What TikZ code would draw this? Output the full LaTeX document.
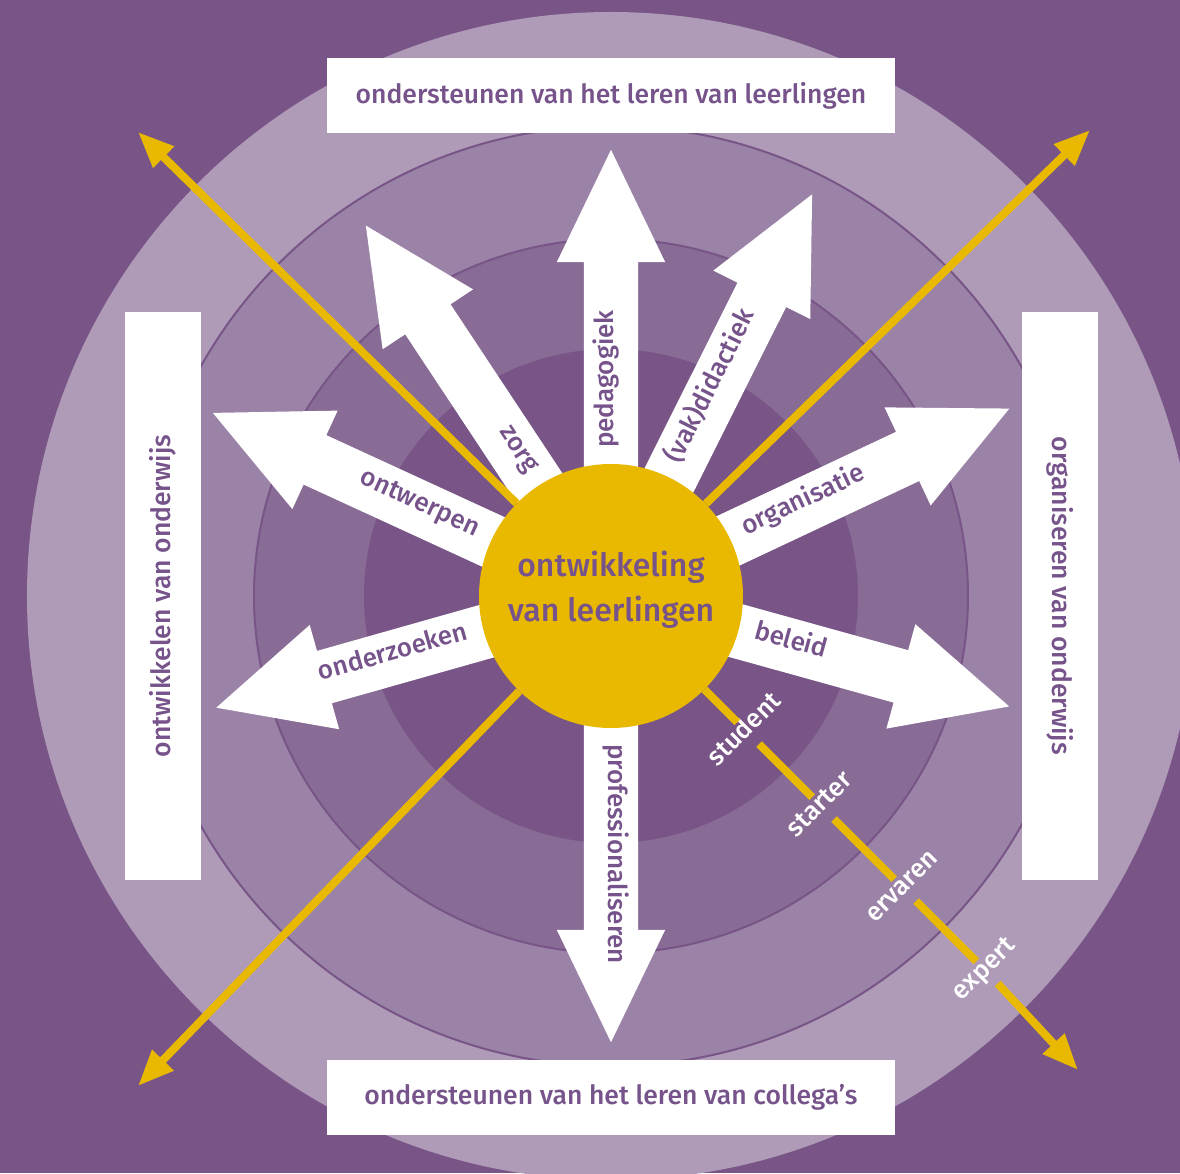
\documentclass[tikz,border=0pt]{standalone}
\usepackage{fontspec}
\setmainfont{Fira Sans}[UprightFont=* Medium]
\usepackage{tikz}
\usetikzlibrary{shapes.arrows, arrows.meta}
\definecolor{bgpurple}{HTML}{785586}
\definecolor{ringouter}{HTML}{AF9BB8}
\definecolor{ringmid}{HTML}{9B83A7}
\definecolor{ringinner}{HTML}{886C96}
\definecolor{coreyellow}{HTML}{E8B900}
\definecolor{textpurple}{HTML}{76538A}

\begin{document}
\begin{tikzpicture}[x=1pt, y=1pt,
    blockarrow/.style={single arrow, fill=white, inner xsep=0pt, inner ysep=27pt, minimum width=108pt,
      single arrow head extend=27pt, single arrow tip angle=51.5, anchor=tail},
    armlabel/.style={text=textpurple, font=\fontsize{26}{30}\selectfont, inner sep=0pt},
    stagelabel/.style={text=white, font=\fontsize{26}{30}\selectfont, rotate=45,
      inner xsep=2pt, inner ysep=10.5pt, text height=0.75em, text depth=0.2em},
    sidebox/.style={fill=white, text=textpurple, font=\fontsize{26.5}{30}\selectfont,
      minimum width=567pt, minimum height=75pt, inner sep=0pt},
    trackline/.style={draw=coreyellow, line width=8pt}
  ]
    \useasboundingbox (-611,-577) rectangle (569,596);
    \fill[bgpurple] (-611,-577) rectangle (569,596);
    \fill[ringouter] (0,0) circle (584);
    \filldraw[fill=ringmid, draw=bgpurple, line width=2pt] (0,0) circle (470);
    \filldraw[fill=ringinner, draw=bgpurple, line width=2pt] (0,0) circle (357);
    \fill[bgpurple] (0,0) circle (247);

    \node[blockarrow, rotate=90, minimum height=446pt] (pedArrow) at (0,0) {};
    \node[blockarrow, rotate=-90, minimum height=446pt] (profArrow) at (0,0) {};
    \node[blockarrow, rotate=123.5, minimum height=444pt] (zorgArrow) at (0,0) {};
    \node[blockarrow, rotate=63.4, minimum height=449pt] (didArrow) at (0,0) {};
    \node[blockarrow, rotate=155.3, minimum height=438pt] (ontwArrow) at (0,0) {};
    \node[blockarrow, rotate=25.2, minimum height=440pt] (orgArrow) at (0,0) {};
    \node[blockarrow, rotate=195.8, minimum height=410pt] (onderzArrow) at (0,0) {};
    \node[blockarrow, rotate=-15.5, minimum height=413pt] (beleidArrow) at (0,0) {};

    \node[armlabel, rotate=90, anchor=mid west] (pedagogiek) at (90:148) {pedagogiek};
    \node[armlabel, rotate=-90, anchor=mid west] (professionaliseren) at (-90:148) {professionaliseren};
    \node[armlabel, rotate=-56.5, anchor=mid east] (zorg) at (123.5:148) {zorg};
    \node[armlabel, rotate=63.4, anchor=mid west] (didactiek) at (63.4:148) {(vak)didactiek};
    \node[armlabel, rotate=-24.7, anchor=mid east] (ontwerpen) at (155.3:148) {ontwerpen};
    \node[armlabel, rotate=25.2, anchor=mid west] (organisatie) at (25.2:148) {organisatie};
    \node[armlabel, rotate=15.8, anchor=mid east] (onderzoeken) at (195.8:148) {onderzoeken};
    \node[armlabel, rotate=-15.5, anchor=mid west] (beleid) at (-15.5:148) {beleid};

    \node[circle, fill=coreyellow, minimum size=264pt, inner sep=0pt] (core) at (0,0) {};
    \node[align=center, text=textpurple, font=\fontsize{32}{45}\selectfont] (coreText) at (0,6) {ontwikkeling\\van leerlingen};

    \coordinate (tipNW) at (-473,464);
    \coordinate (tipNE) at (479,466);
    \coordinate (tipSW) at (-473,-490);
    \coordinate (tipSE) at (467,-474);
    \draw[trackline, -{Triangle[length=36pt, width=28pt]}] (core) -- (tipNW);
    \draw[trackline, -{Triangle[length=36pt, width=28pt]}] (core) -- (tipNE);
    \draw[trackline, -{Triangle[length=36pt, width=28pt]}] (core) -- (tipSW);

    \node[stagelabel] (student) at (-45:194) {student};
    \node[stagelabel] (starter) at (-45:300) {starter};
    \node[stagelabel] (ervaren) at (-45:416) {ervaren};
    \node[stagelabel] (expert) at (-45:532) {expert};
    \draw[trackline] (core) -- (student) (student) -- (starter)
      (starter) -- (ervaren) (ervaren) -- (expert);
    \draw[trackline, -{Triangle[length=36pt, width=28pt]}] (expert) -- (tipSE);

    \node[sidebox] (learnPupils) at (0,500) {ondersteunen van het leren van leerlingen};
    \node[sidebox] (learnColleagues) at (0,-501) {ondersteunen van het leren van collega’s};
    \node[sidebox, rotate=90, minimum width=568pt, minimum height=76pt] (developEdu) at (-448,0) {ontwikkelen van onderwijs};
    \node[sidebox, rotate=-90, minimum width=568pt, minimum height=76pt] (organiseEdu) at (449,0) {organiseren van onderwijs};
\end{tikzpicture}
\end{document}
